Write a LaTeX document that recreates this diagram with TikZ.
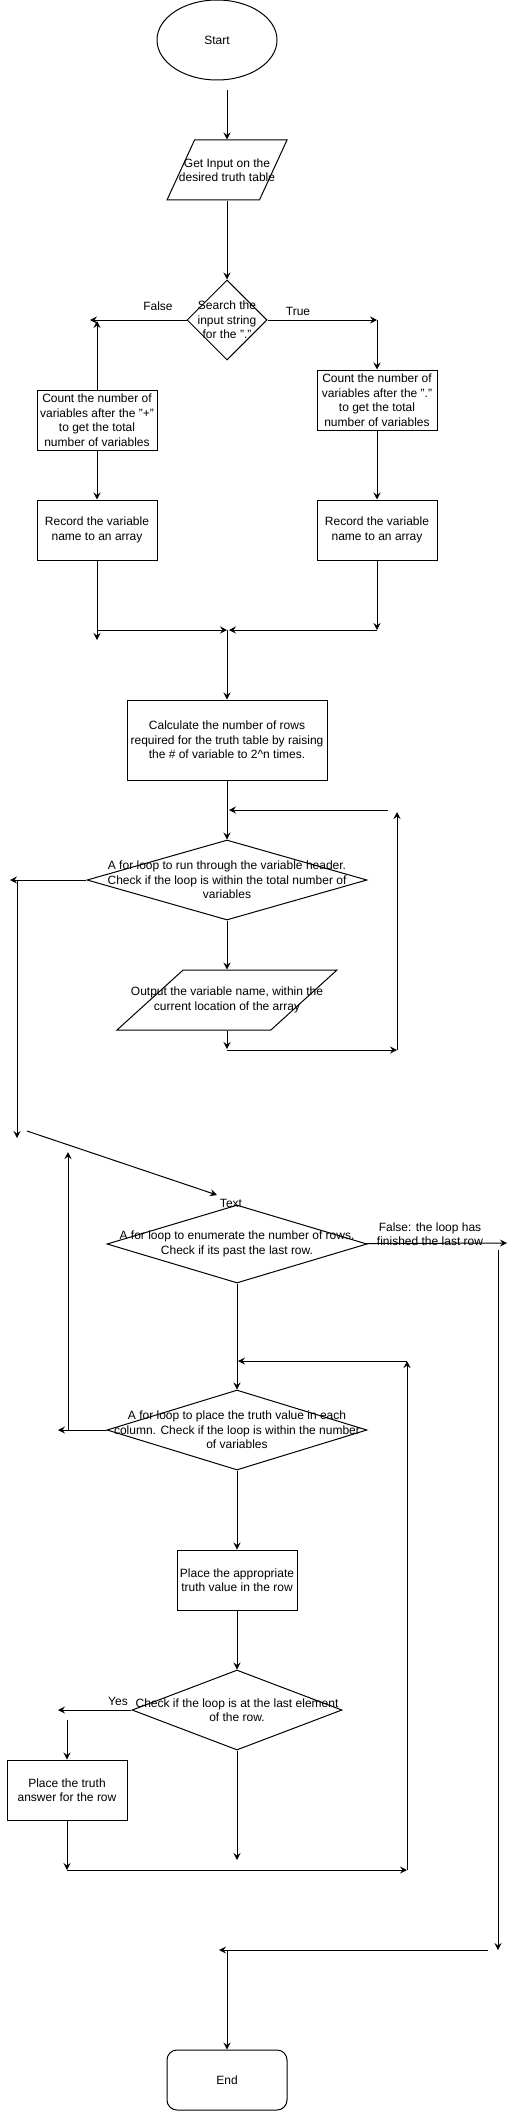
\documentclass[tikz,border=0pt]{standalone}
\usepackage{fontspec}
\setmainfont{Liberation Sans}
\usetikzlibrary{shapes,arrows.meta}

\begin{document}
\begin{tikzpicture}[x=1pt,y=-1pt,line width=1pt,
  every node/.style={font=\fontsize{12}{14.5}\selectfont,inner sep=0pt,align=center},
  box/.style={draw,rectangle,minimum width=120,minimum height=60},
  dia/.style={draw,diamond,inner sep=1pt},
  io/.style={draw,trapezium,trapezium stretches=true,inner sep=2pt,minimum height=60}]

  \useasboundingbox (0,0) rectangle (516,2111);

  % Specification of nodes (position, etc.)
  \node[draw,ellipse,minimum width=120,minimum height=80] (s0) at (217,40) {Start};
  \node[io,trapezium left angle=67,trapezium right angle=113,minimum width=120,
    label={center:{Get Input on the\\desired truth table}}] (in0) at (227,170) {};
  \node[dia,minimum width=80,minimum height=80,
    label={center:{Search the\\input string\\for the "."}}] (d0) at (227,320) {};
  \node[box] (c0) at (97,420) {Count the number of\\variables after the "+"\\to get the total\\number of variables};
  \node[box] (c1) at (377,400) {Count the number of\\variables after the "."\\to get the total\\number of variables};
  \node[box] (r0) at (97,530) {Record the variable\\name to an array};
  \node[box] (r1) at (377,530) {Record the variable\\name to an array};
  \node[box,minimum width=200,minimum height=80] (k0) at (227,740) {Calculate the number of rows\\required for the truth table by raising\\the \# of variable to 2\textasciicircum n times.};
  \node[dia,minimum width=280,minimum height=80,
    label={center:{A for loop to run through the variable header.\\Check if the loop is within the total number of\\variables}}] (d1) at (227,880) {};
  \node[io,trapezium left angle=53,trapezium right angle=127,minimum width=220,
    label={center:{Output the variable name, within the\\current location of the array}}] (o0) at (227,1000) {};
  \node[dia,minimum width=260,minimum height=78,
    label={center:{A for loop to enumerate the number of rows.\\Check if its past the last row.}}] (d2) at (237,1244) {};
  \node[dia,minimum width=260,minimum height=80,
    label={center:{A for loop to place the truth value in each\\column. Check if the loop is within the number\\of variables}}] (d3) at (237,1430) {};
  \node[box] (b0) at (237,1580) {Place the appropriate\\truth value in the row};
  \node[dia,minimum width=210,minimum height=80,
    label={center:{Check if the loop is at the last element\\of the row.}}] (d4) at (237,1710) {};
  \node[box] (b1) at (67,1790) {Place the truth\\answer for the row};
  \node[draw,rectangle,rounded corners=10,minimum width=120,minimum height=60] (e0) at (227,2080) {End};

  % labels
  \node (lf) at (158,306) {False};
  \node (lt) at (298,311) {True};
  \node (lx) at (231,1203) {Text};
  \node (lr) at (430,1234) {False: the loop has\\finished the last row};
  \node (ly) at (118,1701) {Yes};

  % free ends of the connectors
  \coordinate (q0) at (227,90);
  \coordinate (q1) at (90,320);
  \coordinate (q2) at (377,320);
  \coordinate (q3) at (97,321);
  \coordinate (q4) at (97,640);
  \coordinate (q5) at (97,630);
  \coordinate (q6) at (227,630);
  \coordinate (q7) at (377,630);
  \coordinate (q8) at (229,630);
  \coordinate (q9) at (388,810);
  \coordinate (q10) at (229,810);
  \coordinate (q11) at (397,1050);
  \coordinate (q12) at (397,812);
  \coordinate (q13) at (10,880);
  \coordinate (q14) at (17,880);
  \coordinate (q15) at (17,1138);
  \coordinate (q16) at (227,1049);
  \coordinate (q17) at (227,1050);
  \coordinate (q18) at (27,1131);
  \coordinate (q19) at (217,1195);
  \coordinate (q20) at (68,1431);
  \coordinate (q21) at (68,1152);
  \coordinate (q22) at (507,1243);
  \coordinate (q23) at (498,1250);
  \coordinate (q24) at (498,1950);
  \coordinate (q25) at (488,1950);
  \coordinate (q26) at (219,1950);
  \coordinate (q27) at (227,1950);
  \coordinate (q28) at (407,1361);
  \coordinate (q29) at (238,1361);
  \coordinate (q30) at (407,1870);
  \coordinate (q31) at (58,1430);
  \coordinate (q32) at (58,1710);
  \coordinate (q33) at (67,1720);
  \coordinate (q34) at (237,1860);
  \coordinate (q35) at (67,1870);

  \begin{scope}[-{Stealth[length=7pt,width=7pt,inset=2.5pt]}]
    \draw (q0) to (in0);
    \draw (in0) to (d0);
    \draw (d0) to (q1);
    \draw (d0) to (q2);
    \draw (q2) to (c1);
    \draw (c0) to (q3);
    \draw (c0) to (r0);
    \draw (c1) to (r1);
    \draw (r0) to (q4);
    \draw (q5) to (q6);
    \draw (r1) to (q7);
    \draw (q7) to (q8);
    \draw (q6) to (k0);
    \draw (k0) to (d1);
    \draw (q9) to (q10);
    \draw (q11) to (q12);
    \draw (d1) to (q13);
    \draw (q14) to (q15);
    \draw (d1) to (o0);
    \draw (o0) to (q16);
    \draw (q17) to (q11);
    \draw (q18) to (q19);
    \draw (q20) to (q21);
    \draw (d2) to (q22);
    \draw (q23) to (q24);
    \draw (q25) to (q26);
    \draw (q27) to (e0);
    \draw (d2) to (d3);
    \draw (q28) to (q29);
    \draw (q30) to (q28);
    \draw (d3) to (q31);
    \draw (d3) to (b0);
    \draw (b0) to (d4);
    \draw (d4) to (q32);
    \draw (q33) to (b1);
    \draw (d4) to (q34);
    \draw (b1) to (q35);
    \draw (q35) to (q30);
  \end{scope}

\end{tikzpicture}
\end{document}
